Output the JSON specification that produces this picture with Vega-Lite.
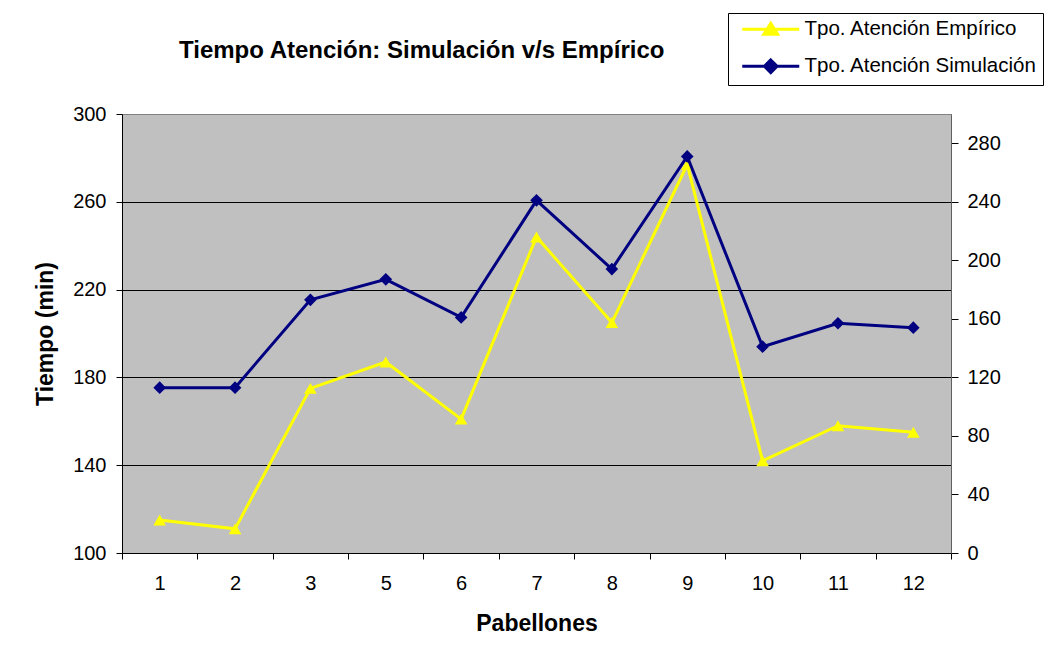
{
  "$schema": "https://vega.github.io/schema/vega-lite/v6.json",
  "autosize": {"type": "none"},
  "padding": {"left": 122, "top": 114, "right": 102, "bottom": 108},
  "width": 829,
  "height": 439,
  "background": "white",
  "title": {
    "text": "Tiempo Atención: Simulación v/s Empírico",
    "anchor": "start",
    "frame": "group",
    "dx": 57,
    "offset": -69,
    "baseline": "alphabetic",
    "font": "Liberation Sans",
    "fontSize": 24,
    "fontWeight": "bold",
    "color": "#000000"
  },
  "data": {
    "values": [
      {"pab": "1", "emp": 115, "sim": 113},
      {"pab": "2", "emp": 111, "sim": 113},
      {"pab": "3", "emp": 175, "sim": 173},
      {"pab": "5", "emp": 187, "sim": 187},
      {"pab": "6", "emp": 161, "sim": 161},
      {"pab": "7", "emp": 244, "sim": 241},
      {"pab": "8", "emp": 205, "sim": 194},
      {"pab": "9", "emp": 277, "sim": 271},
      {"pab": "10", "emp": 142, "sim": 141},
      {"pab": "11", "emp": 158, "sim": 157},
      {"pab": "12", "emp": 155, "sim": 154}
    ]
  },
  "encoding": {
    "x": {
      "field": "pab",
      "type": "ordinal",
      "sort": null,
      "bandPosition": 0.5,
      "scale": {"type": "band", "paddingInner": 0, "paddingOuter": 0},
      "axis": {
        "title": "Pabellones",
        "labelAngle": 0,
        "tickBand": "extent",
        "tickSize": 6,
        "labelPadding": 14,
        "titlePadding": 19,
        "domainColor": "#000000",
        "tickColor": "#000000",
        "grid": false
      }
    }
  },
  "layer": [
    {
      "encoding": {
        "y": {
          "field": "emp",
          "type": "quantitative",
          "scale": {"domain": [100, 300], "nice": false, "zero": false},
          "axis": {
            "orient": "left",
            "title": "Tiempo (min)",
            "values": [100, 140, 180, 220, 260, 300],
            "grid": true,
            "gridColor": {"condition": {"test": "datum.value === 300", "value": "#808080"}, "value": "#000000"},
            "gridWidth": 1,
            "gridOpacity": 1,
            "tickSize": 6,
            "labelPadding": 10,
            "titlePadding": 15,
            "domainColor": "#000000",
            "tickColor": "#000000"
          }
        },
        "color": {
          "datum": "Tpo. Atención Empírico",
          "type": "nominal",
          "scale": {
            "domain": ["Tpo. Atención Empírico", "Tpo. Atención Simulación"],
            "range": ["#FFFF00", "#000080"]
          },
          "legend": {
            "orient": "none",
            "legendX": 606,
            "legendY": -101,
            "title": null,
            "padding": 6,
            "strokeColor": "#000000",
            "fillColor": "#FFFFFF",
            "symbolSize": 144,
            "symbolStrokeWidth": 3,
            "symbolOffset": -2,
            "labelOffset": 52,
            "rowPadding": 12,
            "labelFont": "Liberation Sans",
            "labelFontSize": 20.5,
            "labelColor": "#000000",
            "labelLimit": 400,
            "labelExpr": "datum.label + '\u00a0\u00a0'",
            "encode": {
              "symbols": {
                "update": {
                  "shape": {"signal": "datum.value === 'Tpo. Atención Empírico' ? 'M0,0H9.5M4.75,-1L5.9,0.85L3.6,0.85Z' : 'M0,0H9.5M4.75,-1.05L5.8,0L4.75,1.05L3.7,0Z'"},
                  "stroke": {"signal": "datum.value === 'Tpo. Atención Empírico' ? '#FFFF00' : '#000080'"},
                  "fill": {"signal": "datum.value === 'Tpo. Atención Empírico' ? '#FFFF00' : '#000080'"},
                  "strokeWidth": {"value": 3},
                  "opacity": {"value": 1}
                }
              }
            }
          }
        }
      },
      "layer": [
        {"mark": {"type": "line", "strokeWidth": 3}},
        {"mark": {"type": "point", "shape": "triangle-up", "filled": true, "size": 160, "opacity": 1}}
      ]
    },
    {
      "encoding": {
        "y": {
          "field": "sim",
          "type": "quantitative",
          "scale": {"domain": [0, 300], "nice": false},
          "axis": {
            "orient": "right",
            "title": null,
            "values": [0, 40, 80, 120, 160, 200, 240, 280],
            "grid": false,
            "tickSize": 7,
            "labelPadding": 9,
            "domainColor": "#606060",
            "tickColor": "#000000"
          }
        },
        "color": {
          "datum": "Tpo. Atención Simulación",
          "type": "nominal"
        }
      },
      "layer": [
        {"mark": {"type": "line", "strokeWidth": 3}},
        {"mark": {"type": "point", "shape": "diamond", "filled": true, "size": 160, "opacity": 1}}
      ]
    }
  ],
  "resolve": {"scale": {"y": "independent"}},
  "config": {
    "font": "Liberation Sans",
    "view": {"fill": "#C0C0C0", "stroke": "#808080", "strokeWidth": 1},
    "axis": {
      "labelFont": "Liberation Sans",
      "labelFontSize": 20,
      "labelColor": "#000000",
      "titleFont": "Liberation Sans",
      "titleFontSize": 23,
      "titleFontWeight": "bold",
      "titleColor": "#000000",
      "domainWidth": 1,
      "tickWidth": 1
    }
  }
}
